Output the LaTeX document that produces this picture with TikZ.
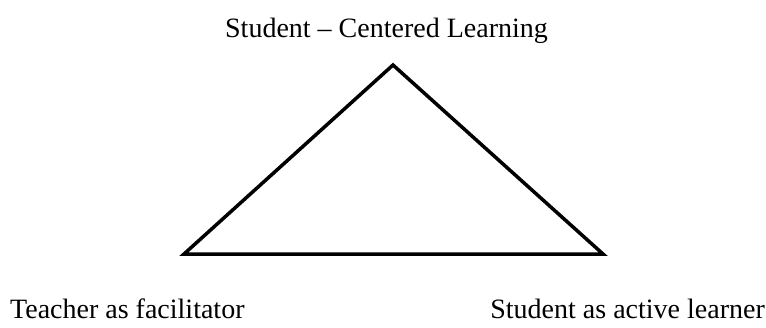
\documentclass[tikz,border=0pt]{standalone}
\usepackage{fontspec}
\setmainfont{Liberation Serif}
\begin{document}
\begin{tikzpicture}[x=1pt,y=-1pt,
  lbl/.style={inner sep=0pt,font=\fontsize{28}{32}\selectfont},
  tri/.style={draw=black,line width=3.5pt,line join=miter}]
\useasboundingbox (0,0) rectangle (766,327);
\node[lbl,anchor=base] (title) at (386.5,37) {Student – Centered Learning};
\node[lbl,anchor=base west] (teacher) at (10,318) {Teacher as facilitator};
\node[lbl,anchor=base east] (learner) at (765,318) {Student as active learner};
\coordinate (apex) at (393,65);
\coordinate (bl) at (184,254);
\coordinate (br) at (603,254);
\draw[tri] (apex) -- (bl) -- (br) -- cycle;
\end{tikzpicture}
\end{document}
